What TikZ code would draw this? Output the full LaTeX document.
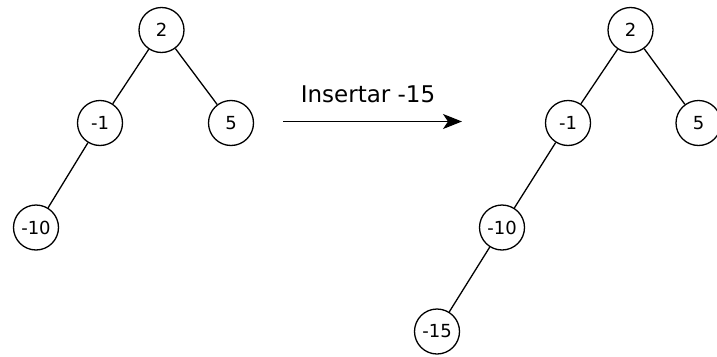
\documentclass[tikz,border=0pt]{standalone}
\usepackage{fontspec}
\setmainfont{DejaVu Sans}
\usetikzlibrary{arrows.meta}
\begin{document}
\begin{tikzpicture}[x=1pt,y=1pt,
  treenode/.style={circle,draw,line width=1.3pt,minimum size=45pt,inner sep=0pt,font=\fontsize{18}{20}\selectfont},
  edge/.style={line width=1.3pt},
  lbl/.style={font=\fontsize{23}{26}\selectfont}]
\useasboundingbox (0,0) rectangle (717,-356);
% left tree
\node[treenode] (a2) at (161.5,-30) {2};
\node[treenode] (am1) at (100,-123) {-1};
\node[treenode] (a5) at (231,-123) {5};
\node[treenode] (am10) at (36,-227.5) {-10};
\draw[edge] (a2) -- (am1);
\draw[edge] (a2) -- (a5);
\draw[edge] (am1) -- (am10);
% arrow
\coordinate (s) at (283,-121.5);
\coordinate (e) at (462,-121.5);
\draw[edge,-{Stealth[length=19pt,width=15pt,inset=5pt]}] (s) -- (e);
\node[lbl] (t) at (368,-94) {Insertar -15};
% right tree
\node[treenode] (b2) at (630.5,-30) {2};
\node[treenode] (bm1) at (568,-123) {-1};
\node[treenode] (b5) at (698.5,-123) {5};
\node[treenode] (bm10) at (502,-227.5) {-10};
\node[treenode] (bm15) at (437,-331.5) {-15};
\draw[edge] (b2) -- (bm1);
\draw[edge] (b2) -- (b5);
\draw[edge] (bm1) -- (bm10);
\draw[edge] (bm10) -- (bm15);
\end{tikzpicture}
\end{document}
